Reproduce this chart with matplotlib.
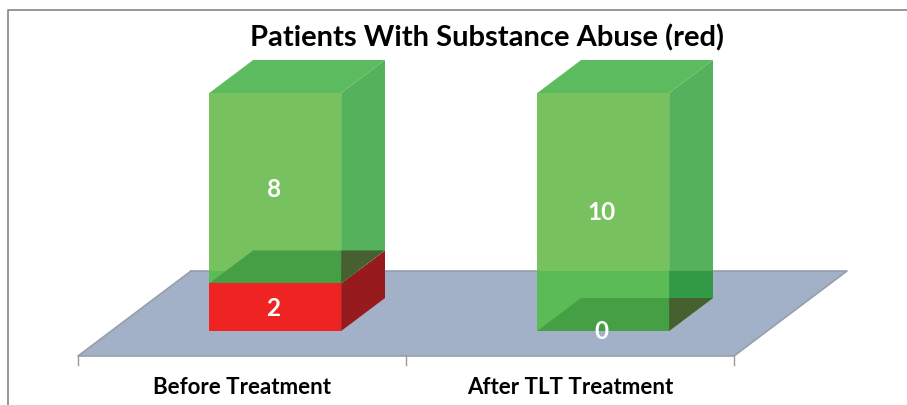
#!/usr/bin/env python

import matplotlib
matplotlib.use('Agg')
import matplotlib.pyplot as plt
from matplotlib.patches import Polygon
from matplotlib.lines import Line2D

title = 'Patients With Substance Abuse (red)'
categories = ['Before Treatment', 'After TLT Treatment']
red_values = [2, 0]
green_values = [8, 10]

# fake 3d floor, in category / value units
depth_x = 0.3445
depth_y = 3.571
bar_front = 0.294
bar_back = 0.682
bar_width = 0.402

W, H = 907, 405
plt.rcParams['font.family'] = ['Lato', 'DejaVu Sans']

fig = plt.figure(figsize=(W / 100.0, H / 100.0), dpi=100)
ax = fig.add_axes([0, 0, 1, 1])
ax.set_xlim(-78 / 328.0, (W - 78) / 328.0)
ax.set_ylim((331 - H) / 23.8, 331 / 23.8)
ax.axis('off')


def project(x, v, d):
    """ category position, value and depth (0 front, 1 back) to axes coords """
    return (x + d * depth_x, v + (d - bar_front) * depth_y)


def face(pts, color, alpha=1.0, zorder=2):
    p = Polygon([project(*q) for q in pts], closed=True, facecolor=color, edgecolor='none', alpha=alpha, zorder=zorder)
    ax.add_patch(p)
    return p


# floor
n = len(categories)
floor_pts = [(0, 0, 0), (n, 0, 0), (n, 0, 1), (0, 0, 1)]
face(floor_pts, '#A2B1C8', zorder=1)
floor = [project(*q) for q in floor_pts]
ax.plot([floor[3][0], floor[2][0], floor[1][0], floor[0][0], floor[3][0]],
        [floor[3][1], floor[2][1], floor[1][1], floor[0][1], floor[3][1]],
        color='#979FA9', lw=1.2, zorder=1.5)
for i in range(n + 1):
    ax.plot([i, i], [floor[0][1], floor[0][1] - 0.38], color='#9A9A9A', lw=1.0, zorder=1.5)

for i, (r, g) in enumerate(zip(red_values, green_values)):
    x0 = i + 0.5 - bar_width / 2
    x1 = i + 0.5 + bar_width / 2
    total = r + g

    if r > 0:
        face([(x0, 0, bar_front), (x1, 0, bar_front), (x1, r, bar_front), (x0, r, bar_front)], '#F02323', zorder=2)
        face([(x1, 0, bar_front), (x1, 0, bar_back), (x1, r, bar_back), (x1, r, bar_front)], '#971A1C', zorder=2)

    front = face([(x0, r, bar_front), (x1, r, bar_front), (x1, total, bar_front), (x0, total, bar_front)],
                 '#77C25F', zorder=3)
    side = face([(x1, r, bar_front), (x1, r, bar_back), (x1, total, bar_back), (x1, total, bar_front)],
                '#55B15B', zorder=3)
    face([(x0, total, bar_front), (x1, total, bar_front), (x1, total, bar_back), (x0, total, bar_back)],
         '#5CBA5F', zorder=3)

    # floor showing through the green block
    f1 = face(floor_pts, '#5BBB55', zorder=3.5)
    f1.set_clip_path(front.get_path(), front.get_transform())
    f2 = face(floor_pts, '#329A45', zorder=3.5)
    f2.set_clip_path(side.get_path(), side.get_transform())

    # underside of the green block, seen through the front and the side
    bottom = [(x0, r, bar_front), (x1, r, bar_front), (x1, r, bar_back), (x0, r, bar_back)]
    b1 = face(bottom, '#459F45', zorder=4)
    b1.set_clip_path(front.get_path(), front.get_transform())
    b2 = face(bottom, '#466030', zorder=4)
    b2.set_clip_path(side.get_path(), side.get_transform())

    # labels sit in the middle of each front face
    tx = project(i + 0.5, 0, bar_front)[0] - 0.005
    ax.text(tx, r / 2.0 - 0.04, str(r), color='white', fontsize=17.5, fontweight='bold', ha='center', va='center', zorder=6)
    ax.text(tx, r + g / 2.0 - 0.04, str(g), color='white', fontsize=17.5, fontweight='bold', ha='center', va='center', zorder=6)

    ax.text(i + 0.5, -2.37, categories[i], color='black', fontsize=16, fontweight='bold', ha='center', va='center', zorder=6)

fig.text(486.5 / W, 1 - 38.0 / H, title, color='black', fontsize=21, fontweight='bold', ha='center', va='center')

# chart frame, cut off on the right and at the bottom
fig.add_artist(Line2D([7.5 / W, 7.5 / W, 1], [0, 1 - 9.5 / H, 1 - 9.5 / H], color='#858585', lw=1.2))

fig.savefig('out.png', dpi=100, facecolor='white')
